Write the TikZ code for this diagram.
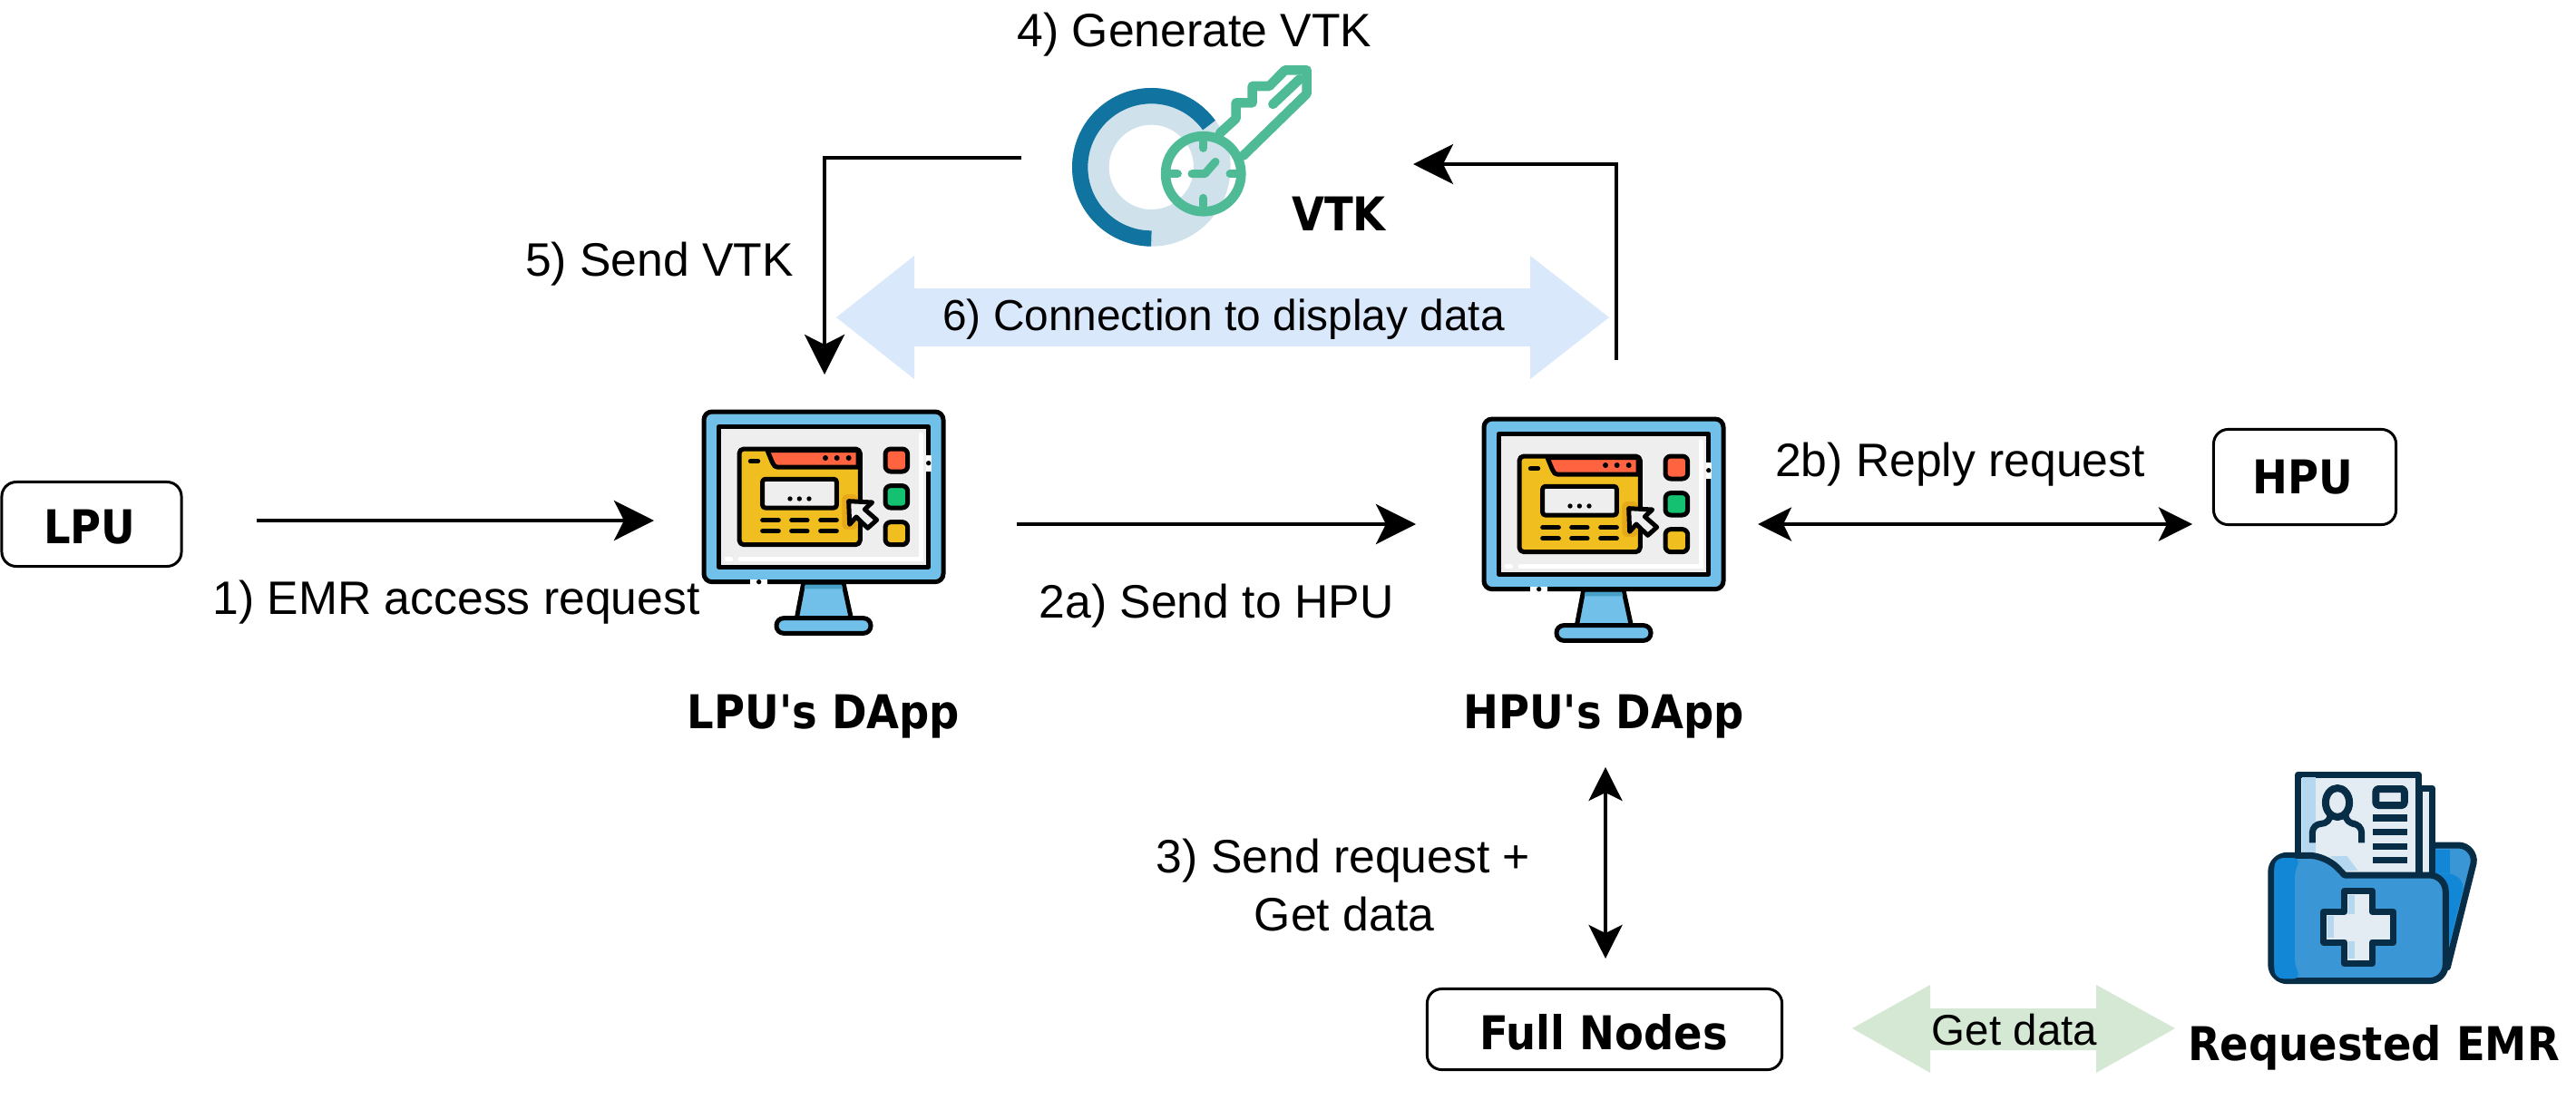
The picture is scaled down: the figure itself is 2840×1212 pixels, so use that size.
\documentclass[tikz,border=0pt]{standalone}
\usepackage{fontspec}
\setmainfont{Liberation Sans}
\newfontfamily\boldfam{DejaVu Sans Bold}
\usetikzlibrary{arrows.meta}
\definecolor{mblue}{HTML}{70C0EA}
\definecolor{mdark}{HTML}{48A0C8}
\definecolor{mgrey}{HTML}{EEEEEE}
\definecolor{myel}{HTML}{F0BE1E}
\definecolor{myel2}{HTML}{E5A91A}
\definecolor{mred}{HTML}{FF6340}
\definecolor{mgreen}{HTML}{14C170}
\definecolor{kdark}{HTML}{1173A0}
\definecolor{klight}{HTML}{CFE2EC}
\definecolor{kgreen}{HTML}{4FBB96}
\definecolor{fdark}{HTML}{082E47}
\definecolor{fblue}{HTML}{1187D5}
\definecolor{fmid}{HTML}{3A96D5}
\definecolor{fpale}{HTML}{E3EBF3}
\definecolor{fsky}{HTML}{B5D8F0}
\definecolor{arrblue}{HTML}{DAE8FC}
\definecolor{arrgreen}{HTML}{D5E8D4}
\tikzset{
  x=0.01cm,y=-0.01cm,
  conn/.style={line width=0.04cm,-{Stealth[length=0.44cm,width=0.44cm,inset=0.11cm]}},
  conn2/.style={line width=0.04cm,{Stealth[length=0.37cm,width=0.37cm,inset=0.09cm]}-{Stealth[length=0.37cm,width=0.37cm,inset=0.09cm]}},
  lab/.style={inner sep=0pt,font=\fontsize{14.7pt}{17pt}\selectfont,text=black},
  blab/.style={inner sep=0pt,xscale=0.905,font=\boldfam\fontsize{14.6pt}{17pt}\selectfont,text=black},
  ubox/.style={draw=black,line width=0.03cm,rounded corners=0.16cm,fill=white,inner sep=0pt},
  ml/.style={draw=black,line width=0.05cm,line join=round,line cap=round},
  kl/.style={draw=kgreen,line width=0.105cm,line cap=round,line join=round},
  fl/.style={draw=fdark,line width=0.07cm,line join=round},
  monitor/.pic={
    \begin{scope}[scale=1/3]
      \filldraw[ml,fill=mblue] (437,640)--(570,640)--(595,755)--(415,755)--cycle;
      \fill[mdark] (443,644)--(564,644)--(568,658)--(440,658)--cycle;
      \filldraw[ml,fill=mblue,rounded corners=0.08cm] (348,755) rectangle (660,805);
      \filldraw[ml,fill=mblue,rounded corners=0.09cm] (108,72) rectangle (900,635);
      \fill[white] (262,626) rectangle (318,644);
      \fill[black] (290,635) circle[radius=8];
      \filldraw[ml,fill=mgrey] (157,122) rectangle (851,585);
      \fill[white] (842,215) rectangle (860,270);
      \fill[black] (851,242) circle[radius=8];
      \draw[white,line width=0.05cm,line cap=round] (825,147)--(825,560)--(228,560);
      \draw[white,line width=0.05cm,line cap=round] (183,560)--(197,560);
      \filldraw[ml,fill=myel,rounded corners=0.05cm] (225,195) rectangle (625,512);
      \filldraw[ml,fill=mred] (318,200)--(618,200)--(618,255)--(350,255) .. controls (338,255) and (335,240) .. cycle;
      \draw[ml] (262,236)--(287,236);
      \foreach \xx in {510,548,587}\fill[black] (\xx,225) circle[radius=9];
      \filldraw[ml,fill=mgrey,rounded corners=0.03cm] (302,295) rectangle (547,390);
      \foreach \xx in {393,424,456}\fill[black] (\xx,360) circle[radius=8];
      \foreach \yy in {431,467}{
        \draw[ml] (302,\yy)--(355,\yy);
        \draw[ml] (398,\yy)--(450,\yy);
        \draw[ml] (494,\yy)--(547,\yy);
      }
      \filldraw[ml,fill=mred,rounded corners=0.06cm] (708,195) rectangle (782,270);
      \filldraw[ml,fill=mgreen,rounded corners=0.06cm] (708,317) rectangle (782,390);
      \filldraw[ml,fill=myel,rounded corners=0.06cm] (708,437) rectangle (782,512);
      \fill[myel2,rounded corners=0.06cm] (565,345) rectangle (617,462);
      \filldraw[ml,fill=mgrey] (587,368)--(665,372)--(640,395)--(680,430)--(650,457)--(612,420)--(590,445)--cycle;
    \end{scope}
  },
  keyicon/.pic={
    \begin{scope}[scale=1/3]
      \draw[klight,line width=0.4067cm] (418,553) circle[radius=201];
      \draw[kdark,line width=0.1733cm] (418,553)+(-36:236) arc[start angle=-36,end angle=-270,radius=236];
      \draw[kl] (645,440)--(698,392)--(698,340)--(752,340)--(752,285)--(808,285)--(860,232)--(932,232)--(932,310)--(722,515);
      \draw[kl] (820,345)--(908,262);
      \draw[kl] (590,575) circle[radius=125];
      \draw[kl,line width=0.09cm] (590,468)--(590,490);
      \draw[kl,line width=0.09cm] (590,680)--(590,655);
      \draw[kl,line width=0.09cm] (480,575)--(505,575);
      \draw[kl,line width=0.09cm] (678,575)--(705,575);
      \draw[kl,line width=0.09cm] (552,575)--(595,575)--(630,535);
    \end{scope}
  },
  folder/.pic={
    \begin{scope}[xscale=0.523,yscale=1/3]
      \filldraw[fl,fill=fmid] (1265,336) -- (1320,336) .. controls (1340,336) and (1355,365) .. (1352,395) -- (1297,740) -- (1265,740) -- cycle;
      \fill[fblue] (1272,350) rectangle (1302,430);
      \fill[fblue] (1272,430) -- (1302,430) .. controls (1325,440) and (1330,460) .. (1330,480) -- (1298,680) -- (1272,680) -- cycle;
      \filldraw[fl,fill=fpale] (1238,148) rectangle (1265,440);
      \filldraw[fl,fill=fpale] (982,102) rectangle (1236,440);
      \fill[fsky] (990,110) rectangle (1020,370);
      \fill[fsky] (1050,372) -- (1085,372) -- (1108,420) -- (1080,420) -- cycle;
      \draw[fl,line width=0.08cm] (1065,195) circle[x radius=25,y radius=48];
      \draw[fl,line width=0.07cm,rounded corners=0.1cm] (1012,328) -- (1012,265) -- (1050,265) -- (1050,236);
      \draw[fl,line width=0.07cm,rounded corners=0.1cm] (1116,328) -- (1116,265) -- (1082,265) -- (1082,236);
      \draw[fl,line width=0.08cm,rounded corners=0.03cm] (1146,150) rectangle (1206,204);
      \foreach \yy in {246,292,340,386}\draw[fdark,line width=0.075cm] (1140,\yy) -- (1212,\yy);
      \filldraw[fl,fill=fmid,rounded corners=0.18cm] (925,785) -- (925,370) -- (1040,370) [sharp corners] -- (1080,435) [rounded corners=0.18cm] -- (1293,435) -- (1293,785) -- cycle;
      \fill[fblue,rounded corners=0.1cm] (932,778) -- (932,378) -- (990,378) -- (975,410) -- (975,745) -- (990,778) -- cycle;
      \filldraw[fl,fill=fpale] (1080,487)--(1138,487)--(1138,556)--(1183,556)--(1183,657)--(1138,657)--(1138,727)--(1080,727)--(1080,657)--(1036,657)--(1036,556)--(1080,556)--cycle;
      \fill[fsky] (1087,500)--(1102,500)--(1102,563)--(1087,563)--cycle;
      \fill[fsky] (1043,570)--(1058,570)--(1058,642)--(1043,642)--cycle;
      \fill[fsky] (1087,654)--(1102,654)--(1102,710)--(1087,710)--cycle;
    \end{scope}
  }
}
\begin{document}
\begin{tikzpicture}
\useasboundingbox (0,0) rectangle (2840,1212);
% big arrows
\fill[arrblue] (922,350)--(1008,282)--(1008,318)--(1687,318)--(1687,282)--(1774,350)--(1687,418)--(1687,382)--(1008,382)--(1008,418)--cycle;
\fill[arrgreen] (2042,1134)--(2128,1086)--(2128,1112)--(2311,1112)--(2311,1086)--(2398,1134)--(2311,1183)--(2311,1158)--(2128,1158)--(2128,1183)--cycle;
% icons
\pic at (740,430) {monitor};
\pic at (1600,438) {monitor};
\pic at (1130,0) {keyicon};
\pic at (2020,820) {folder};
% boxes
\node[ubox,minimum width=1.98cm,minimum height=0.93cm] (lpu) at (101,578) {};
\node[blab] (lputxt) at (99,581) {LPU};
\node[ubox,minimum width=2.01cm,minimum height=1.05cm] (hpu) at (2541,526) {};
\node[blab] (hputxt) at (2539,526) {HPU};
\node[ubox,minimum width=3.91cm,minimum height=0.89cm] (full) at (1769,1135) {};
\node[blab] (fulltxt) at (1768,1138) {Full Nodes};
% labels
\node[lab] (l4) at (1317,38) {4) Generate VTK};
\node[blab] (lvtk) at (1476,236) {VTK};
\node[lab] (l5) at (727,291) {5) Send VTK};
\node[lab,font=\fontsize{13.6pt}{16pt}\selectfont] (l6) at (1349,352) {6) Connection to display data};
\node[lab] (l1) at (503,664) {1) EMR access request};
\node[lab] (l2a) at (1341,668) {2a) Send to HPU};
\node[lab] (l2b) at (2161,512) {2b) Reply request};
\node[blab] (lapp) at (908,790) {LPU's DApp};
\node[blab] (happ) at (1768,790) {HPU's DApp};
\node[lab] (l3a) at (1481,949) {3) Send request +};
\node[lab] (l3b) at (1482,1008) {Get data};
\node[blab] (lemr) at (2617,1155) {Requested EMR};
\node[inner sep=0pt,font=\fontsize{13.5pt}{16pt}\selectfont] (lgd) at (2221,1136) {Get data};
% connectors
\coordinate (a1) at (283,574);
\coordinate (a1e) at (721,574);
\coordinate (a2) at (1121,578);
\coordinate (a2e) at (1561,578);
\coordinate (b1) at (1938,578);
\coordinate (b2) at (2417,578);
\coordinate (c1) at (1770,846);
\coordinate (c2) at (1770,1057);
\draw[conn] (a1) -- (a1e);
\draw[conn] (a2) -- (a2e);
\draw[conn2] (b1) -- (b2);
\draw[conn2] (c1) -- (c2);
\coordinate (d1) at (1782,397);
\coordinate (d2) at (1558,181);
\draw[conn] (d1) |- (d2);
\coordinate (e1) at (1126,174);
\coordinate (e2) at (909,413);
\draw[conn] (e1) -| (e2);
\end{tikzpicture}
\end{document}
